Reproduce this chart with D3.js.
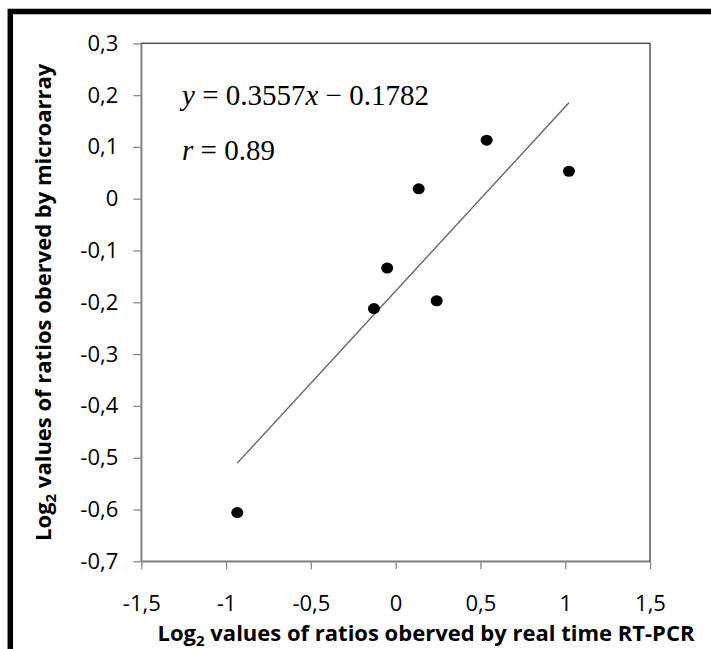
<!DOCTYPE html>
<html>
<head>
<meta charset="utf-8">
<script src="https://cdn.jsdelivr.net/npm/d3@7"></script>
<style>
  html, body { margin: 0; padding: 0; background: #fff; }
  svg { display: block; }
</style>
</head>
<body>
<svg id="chart" width="711" height="649"></svg>
<script>
// ---- data ----
const xValues = [-0.934, -0.128, -0.050, 0.136, 0.242, 0.537, 1.022];
const yValues = [-0.606, -0.212, -0.134, 0.019, -0.197, 0.113, 0.053];
const fitSlope = 0.3557;
const fitIntercept = -0.1782;
const fitR = 0.89;
const xTicks = [-1.5, -1, -0.5, 0, 0.5, 1, 1.5];
const yTicks = [0.3, 0.2, 0.1, 0, -0.1, -0.2, -0.3, -0.4, -0.5, -0.6, -0.7];
const xTitle = "values of ratios oberved by real time RT-PCR";
const yTitle = "values of ratios oberved by microarray";

const svg = d3.select("#chart");
const W = 711, H = 649;
const pL = 141.3, pR = 650, pT = 43.3, pB = 561.3;

const x = d3.scaleLinear().domain([-1.5, 1.5]).range([pL, pR]);
const y = d3.scaleLinear().domain([-0.7, 0.3]).range([pB, pT]);
const fmt = v => String(v).replace(".", ",");

// outer frame (clipped on right/bottom)
svg.append("path")
  .attr("d", `M10.3,${H + 10} L10.3,11.5 L${W + 10},11.5`)
  .attr("fill", "none").attr("stroke", "#000").attr("stroke-width", 5.5);

// plot area border (top/right dark)
svg.append("rect")
  .attr("x", pL).attr("y", pT)
  .attr("width", pR - pL).attr("height", pB - pT)
  .attr("fill", "none").attr("stroke", "#3c3c3c").attr("stroke-width", 1.3);

const tickFont = "'Open Sans', 'Noto Sans', sans-serif";
const axisColor = "#8a8a8a";

// y axis
const gy = svg.append("g").attr("transform", `translate(${pL},0)`)
  .call(d3.axisLeft(y).tickValues(yTicks).tickFormat(fmt).tickSize(8).tickSizeOuter(0).tickPadding(15));
// x axis
const gx = svg.append("g").attr("transform", `translate(0,${pB})`)
  .call(d3.axisBottom(x).tickValues(xTicks).tickFormat(fmt).tickSize(8).tickSizeOuter(0).tickPadding(26));

[gx, gy].forEach(g => {
  g.select(".domain").attr("stroke", axisColor).attr("stroke-width", 1.3);
  g.selectAll(".tick line").attr("stroke", axisColor).attr("stroke-width", 1.3);
  g.selectAll(".tick text").attr("fill", "#000").style("font-family", tickFont).style("font-size", "22px");
});

// regression line
const xMin = d3.min(xValues), xMax = d3.max(xValues);
svg.append("line")
  .attr("x1", x(xMin)).attr("y1", y(fitSlope * xMin + fitIntercept))
  .attr("x2", x(xMax)).attr("y2", y(fitSlope * xMax + fitIntercept))
  .attr("stroke", "#666").attr("stroke-width", 1.4);

// points
svg.append("g").selectAll("ellipse")
  .data(xValues.map((v, i) => [v, yValues[i]]))
  .join("ellipse")
  .attr("cx", d => x(d[0])).attr("cy", d => y(d[1]))
  .attr("rx", 6).attr("ry", 5.5).attr("fill", "#000");

// equation
const eqFont = "'Liberation Serif', 'Times New Roman', serif";
const eq = svg.append("text").attr("x", 182).attr("y", 105)
  .style("font-family", eqFont).style("font-size", "29px").attr("fill", "#000");
eq.append("tspan").style("font-style", "italic").text("y");
eq.append("tspan").text(" = 0.3557");
eq.append("tspan").style("font-style", "italic").text("x");
eq.append("tspan").text(" \u2212 " + String(-fitIntercept));

const rt = svg.append("text").attr("x", 182).attr("y", 160)
  .style("font-family", eqFont).style("font-size", "29px").attr("fill", "#000");
rt.append("tspan").style("font-style", "italic").text("r");
rt.append("tspan").text(" = " + fitR);

// axis titles
const titleFont = "'Open Sans', 'Noto Sans', sans-serif";
const xt = svg.append("text").attr("x", 426).attr("y", 641).attr("text-anchor", "middle")
  .style("font-family", titleFont).style("font-size", "22px").style("font-weight", "bold").attr("fill", "#000");
xt.append("tspan").text("Log");
xt.append("tspan").attr("dy", 5).style("font-size", "15px").text("2");
xt.append("tspan").attr("dy", -5).text(" " + xTitle);

const yt = svg.append("text").attr("transform", `translate(51,${(pT + pB) / 2}) rotate(-90)`)
  .attr("text-anchor", "middle")
  .style("font-family", titleFont).style("font-size", "22px").style("font-weight", "bold").attr("fill", "#000");
yt.append("tspan").text("Log");
yt.append("tspan").attr("dy", 5).style("font-size", "15px").text("2");
yt.append("tspan").attr("dy", -5).text(" " + yTitle);
</script>
</body>
</html>
